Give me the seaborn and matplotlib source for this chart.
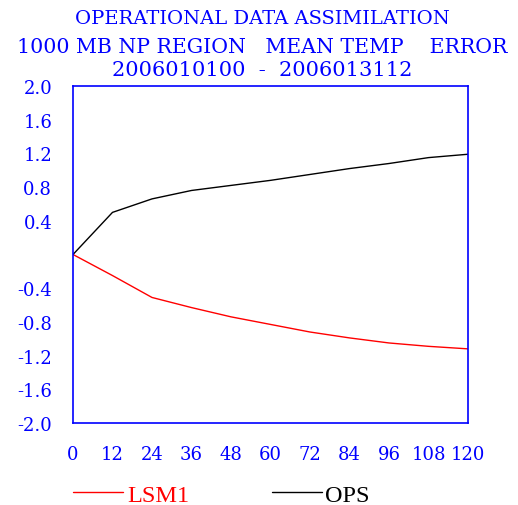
import matplotlib
matplotlib.use("Agg")
import matplotlib.pyplot as plt
import seaborn as sns
import pandas as pd
from matplotlib.lines import Line2D

hours = [0, 12, 24, 36, 48, 60, 72, 84, 96, 108, 120]
lsm1 = [0.0, -0.25, -0.51, -0.63, -0.74, -0.83, -0.92, -0.99, -1.05, -1.09, -1.12]
ops = [0.0, 0.50, 0.66, 0.76, 0.82, 0.88, 0.95, 1.02, 1.08, 1.15, 1.19]
yticks = [-2.0, -1.6, -1.2, -0.8, -0.4, 0.0, 0.4, 0.8, 1.2, 1.6, 2.0]
ytick_labels = ["-2.0", "-1.6", "-1.2", "-0.8", "-0.4", "", "0.4", "0.8", "1.2", "1.6", "2.0"]
title_lines = ["OPERATIONAL DATA ASSIMILATION",
               "1000 MB NP REGION   MEAN TEMP    ERROR",
               "2006010100  -  2006013112"]

sns.set_style("white")
plt.rcParams['font.family'] = ['DejaVu Serif']

df = pd.DataFrame({"hour": hours * 2, "val": lsm1 + ops,
                   "exp": ["LSM1"] * len(hours) + ["OPS"] * len(hours)})

fig = plt.figure(figsize=(5.18, 5.06), dpi=100)
ax = fig.add_axes([73/518, 1-424/506, (468-73)/518, (424-87)/506])
sns.lineplot(data=df, x="hour", y="val", hue="exp",
             palette={"LSM1": "#ff0000", "OPS": "#000000"},
             linewidth=1.0, ax=ax, legend=False)
ax.set_xlim(0, 120)
ax.set_ylim(-2, 2)
ax.set_xticks(hours)
ax.set_xticklabels([str(h) for h in hours])
ax.set_yticks(yticks)
ax.set_yticklabels(ytick_labels)
ax.set_xlabel("")
ax.set_ylabel("")
blue = "#0000ff"
for s in ax.spines.values():
    s.set_color(blue)
    s.set_linewidth(1.2)
ax.tick_params(axis="both", colors=blue, direction="out", length=6, width=1.2,
               labelsize=13)
ax.tick_params(axis="y", pad=9)
ax.tick_params(axis="x", pad=10)
ax.yaxis.get_major_ticks()[5].tick1line.set_color("#b0b0ff")

title_sizes = [14, 14.8, 15]
baselines = [24, 53, 76]
for t, y, fs in zip(title_lines, baselines, title_sizes):
    fig.text(0.5 + 3/518, 1 - y/506, t, ha="center", va="baseline",
             color=blue, fontsize=fs)

ly = 1 - 493/506
fig.add_artist(Line2D([73/518, 123/518], [ly, ly], color="#ff0000", lw=1.0))
fig.text(127/518, 1 - 502/506, "LSM1", color="#ff0000", fontsize=17.5,
         va="baseline", ha="left", family="Liberation Serif")
fig.add_artist(Line2D([272/518, 322/518], [ly, ly], color="#000000", lw=1.0))
fig.text(325/518, 1 - 502/506, "OPS", color="#000000", fontsize=17.5,
         va="baseline", ha="left", family="Liberation Serif")

fig.savefig("out.png", dpi=100)
